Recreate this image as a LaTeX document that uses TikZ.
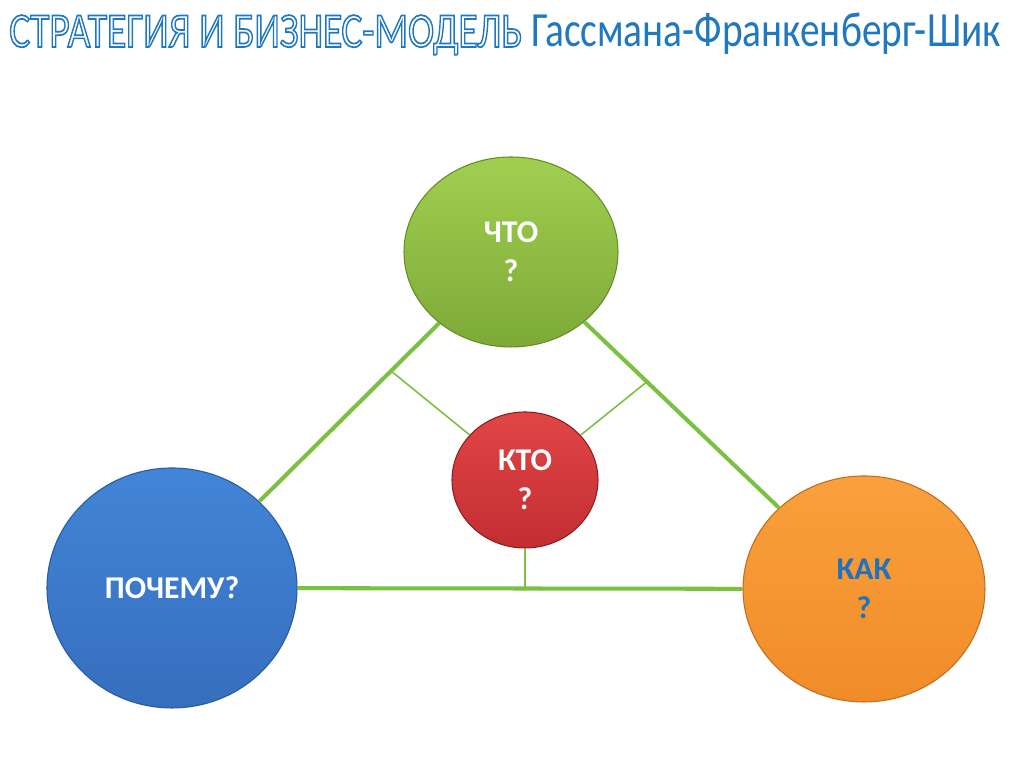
\documentclass[tikz,border=0pt]{standalone}
\usepackage{fontspec}
\setmainfont{Carlito}
\newfontfamily\hollowfont[FakeBold=3.5]{Carlito}
\usetikzlibrary{shapes.geometric,calc}
\definecolor{titleblue}{RGB}{31,120,192}
\definecolor{linegreen}{RGB}{122,193,66}
\definecolor{kakblue}{RGB}{30,115,190}
\newcommand\hollowtext[1]{{\hollowfont\special{pdf:bcolor [1 1 1] [0.12 0.47 0.75]}#1\special{pdf:ecolor}}}
\begin{document}
\begin{tikzpicture}[
	bubble/.style={ellipse, inner sep=0pt, align=center, text=white, line width=0.6pt,
		font=\bfseries\fontsize{18}{22}\selectfont},
	sideline/.style={linegreen, line width=2.3pt},
	spoke/.style={linegreen, line width=0.9pt}]
		\useasboundingbox[fill=white] (0,0) rectangle (20.48,15.34);
		% title
		\node[anchor=base west, inner sep=0pt, xscale=0.8, transform shape, font=\fontsize{28}{34}\selectfont] (title) at (0.18,14.40)
			{\hollowtext{СТРАТЕГИЯ И БИЗНЕС-МОДЕЛЬ} \textcolor{titleblue}{Гассмана-Франкенберг-Шик}};
		% circles
		\node[bubble, minimum width=4.28cm, minimum height=3.8cm, draw={rgb,255:red,100;green,140;blue,40},
			top color={rgb,255:red,160;green,207;blue,80}, bottom color={rgb,255:red,125;green,170;blue,55}] (chto) at (10.22,10.30) {ЧТО\\?};
		\node[bubble, minimum width=5.0cm, minimum height=4.8cm, draw={rgb,255:red,40;green,90;blue,160},
			top color={rgb,255:red,66;green,133;blue,214}, bottom color={rgb,255:red,55;green,110;blue,190}] (pochemu) at (3.44,3.58) {ПОЧЕМУ?};
		\node[bubble, minimum width=4.84cm, minimum height=4.52cm, draw={rgb,255:red,190;green,110;blue,30}, text=kakblue,
			top color={rgb,255:red,250;green,160;blue,60}, bottom color={rgb,255:red,240;green,140;blue,40}] (kak) at (17.28,3.56) {КАК\\?};
		\node[bubble, minimum width=2.92cm, minimum height=2.72cm, draw={rgb,255:red,140;green,30;blue,35},
			top color={rgb,255:red,225;green,70;blue,70}, bottom color={rgb,255:red,195;green,45;blue,50}] (kto) at (10.5,5.74) {КТО\\?};
		% triangle
		\draw[sideline] (pochemu) -- (chto);
		\draw[sideline] (chto) -- (kak);
		\draw[sideline] (pochemu) -- (kak);
		% spokes to the sides
		\coordinate (footl) at ($(pochemu)!0.646!(chto)$);
		\coordinate (footr) at ($(chto)!0.385!(kak)$);
		\coordinate (footb) at (kto |- pochemu);
		\draw[spoke] (kto) -- (footl);
		\draw[spoke] (kto) -- (footr);
		\draw[spoke] (kto) -- (footb);
		\end{tikzpicture}
\end{document}
